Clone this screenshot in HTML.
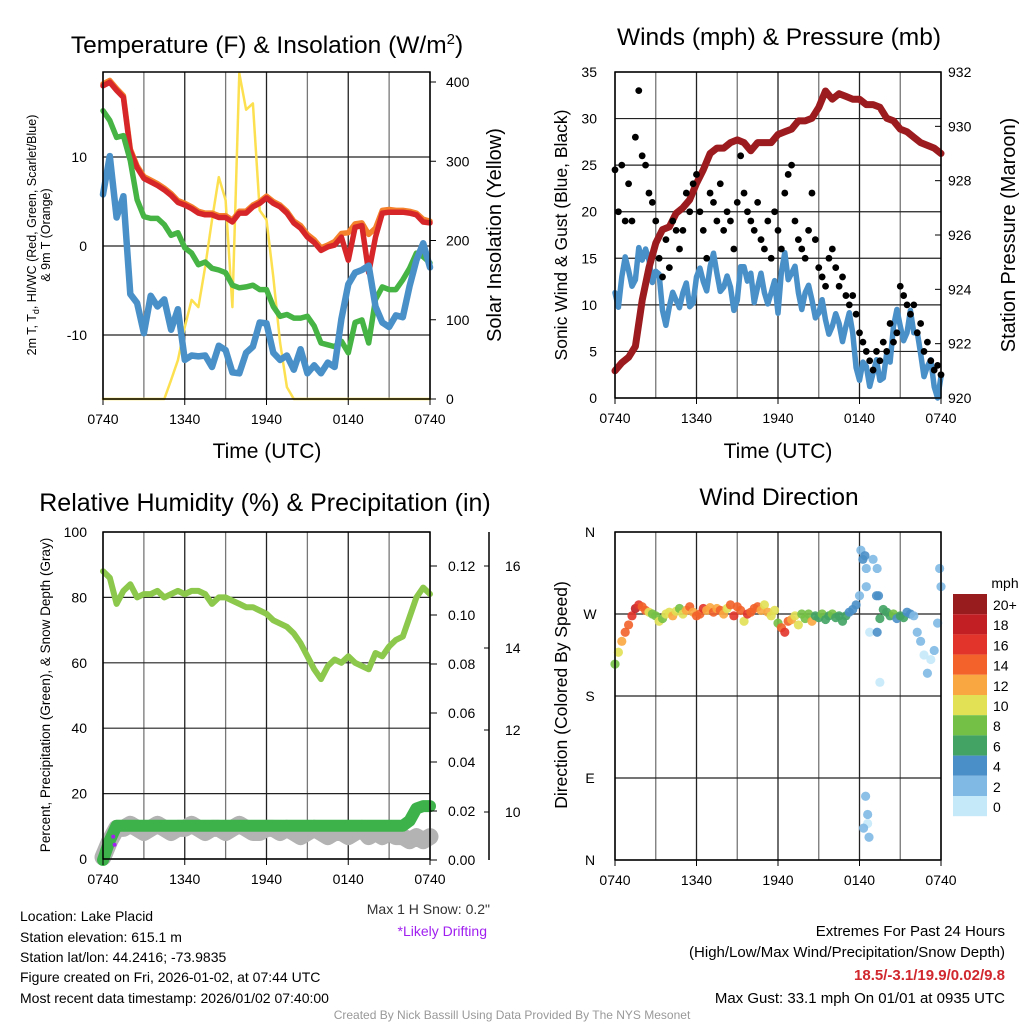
<!DOCTYPE html>
<html><head><meta charset="utf-8"><style>
body{margin:0;background:#fff}
svg{display:block;font-family:"Liberation Sans",sans-serif}
</style></head><body>
<svg id="c" width="1024" height="1024" viewBox="0 0 1024 1024" xmlns="http://www.w3.org/2000/svg">
<g id="txt">
<text x="267" y="53" font-size="24.5" text-anchor="middle">Temperature (F) &amp; Insolation (W/m<tspan dy="-9" font-size="15">2</tspan><tspan dy="9">)</tspan></text>
<text x="779" y="45" font-size="24.5" text-anchor="middle">Winds (mph) &amp; Pressure (mb)</text>
<text x="265" y="511" font-size="25" text-anchor="middle">Relative Humidity (%) &amp; Precipitation (in)</text>
<text x="779" y="505" font-size="24.5" text-anchor="middle">Wind Direction</text>
<text x="267" y="458" font-size="21" text-anchor="middle">Time (UTC)</text>
<text x="778" y="458" font-size="21" text-anchor="middle">Time (UTC)</text>
<text transform="translate(501,235) rotate(-90)" font-size="20" text-anchor="middle">Solar Insolation (Yellow)</text>
<text transform="translate(36,235) rotate(-90)" font-size="12.5" text-anchor="middle">2m T, T<tspan dy="3" font-size="9">d</tspan><tspan dy="-3">, HI/WC (Red, Green, Scarlet/Blue)</tspan></text>
<text transform="translate(50,235) rotate(-90)" font-size="12.5" text-anchor="middle">&amp; 9m T (Orange)</text>
<text transform="translate(567,235) rotate(-90)" font-size="17.5" text-anchor="middle">Sonic Wind &amp; Gust (Blue, Black)</text>
<text transform="translate(1015,235) rotate(-90)" font-size="20" text-anchor="middle">Station Pressure (Maroon)</text>
<text transform="translate(50,695) rotate(-90)" font-size="13.5" text-anchor="middle">Percent, Precipitation (Green), &amp; Snow Depth (Gray)</text>
<text transform="translate(567,695) rotate(-90)" font-size="17.5" text-anchor="middle">Direction (Colored By Speed)</text>
<text x="490" y="914" font-size="14" text-anchor="end" fill="#333">Max 1 H Snow: 0.2"</text>
<text x="487" y="936" font-size="14" text-anchor="end" fill="#a020f0">*Likely Drifting</text>
<g font-size="14">
<text x="20" y="921">Location: Lake Placid</text>
<text x="20" y="942">Station elevation: 615.1 m</text>
<text x="20" y="962">Station lat/lon: 44.2416; -73.9835</text>
<text x="20" y="982">Figure created on Fri, 2026-01-02, at 07:44 UTC</text>
<text x="20" y="1003">Most recent data timestamp: 2026/01/02 07:40:00</text>
</g>
<g font-size="15" text-anchor="end">
<text x="1005" y="936">Extremes For Past 24 Hours</text>
<text x="1005" y="957">(High/Low/Max Wind/Precipitation/Snow Depth)</text>
<text x="1005" y="980" fill="#d0282e" font-weight="bold">18.5/-3.1/19.9/0.02/9.8</text>
<text x="1005" y="1003">Max Gust: 33.1 mph On 01/01 at 0935 UTC</text>
</g>
<text x="512" y="1019" font-size="12" fill="#999" text-anchor="middle">Created By Nick Bassill Using Data Provided By The NYS Mesonet</text>
<text x="1005" y="588" font-size="14" text-anchor="middle">mph</text>
</g>
</svg>
<script>
// ---- data (half-hourly, 0..24 h from 0740 UTC) ----
const tempRed=[18,18.4,17.5,16.7,10.7,8.8,7.6,7.2,6.8,6.3,5.7,4.9,4.6,4.2,3.7,3.5,3.5,3.2,3.2,2.7,3.7,3.7,4.4,4.8,5.4,4.8,4.4,3.7,2.6,2.0,1.0,0.4,-0.5,-0.1,0.1,1.0,-1.6,2.1,2.3,-3.0,1.0,3.7,3.8,3.8,3.8,3.7,3.5,2.7,2.6];
const tempOrange=[18.2,18.6,17.7,16.9,10.9,9.0,7.8,7.4,7.0,6.5,5.9,5.1,4.8,4.4,3.9,3.7,3.7,3.4,3.4,2.9,3.9,3.9,4.6,5.0,5.6,5.0,4.6,3.9,2.8,2.3,1.3,0.7,-0.2,0.1,0.5,1.4,1.5,2.5,2.6,1.3,2.0,4.0,4.1,4.0,4.0,3.9,3.7,3.0,2.8];
const dewGreen=[15.2,14.1,12.2,12.4,9.6,5.2,3.3,3.1,3.1,2.4,1.2,1.5,-0.2,-0.8,-2.1,-1.8,-2.5,-2.7,-3.0,-4.4,-4.7,-4.6,-4.4,-4.9,-4.9,-6.8,-7.9,-7.7,-8.1,-8.1,-7.9,-9.0,-10.9,-11.1,-11.3,-10.7,-12.0,-8.6,-8.3,-10.9,-6.0,-4.6,-4.9,-4.9,-3.8,-2.5,-0.8,-1.2,-1.9];
const windChill=[6.6,9.3,4.0,4.8,-4.6,-7.2,-9.0,-6.4,-6.0,-6.8,-8.6,-7.9,-12.0,-13.1,-11.6,-13.1,-12.8,-12.0,-10.9,-15.0,-13.5,-12.8,-10.5,-9.4,-7.9,-12.8,-12.0,-13.1,-13.1,-12.4,-13.5,-14.2,-13.5,-13.9,-12.8,-9.0,-3.5,-3.8,-1.9,-3.0,-6.0,-9.4,-8.3,-8.6,-7.2,-5.3,-0.8,-0.5,-1.6];
const solar=[0,0,0,0,0,0,0,0,0,0,24,49,91,125,116,167,226,280,251,116,411,365,373,238,226,154,71,15,0,0,0,0,0,0,0,0,0,0,0,0,0,0,0,0,0,0,0,0,0];
const pressure=[921.0,921.3,921.5,921.9,923.6,924.8,925.7,926.2,926.3,926.8,927.0,927.3,927.9,928.4,929.0,929.2,929.2,929.4,929.5,929.4,929.1,929.4,929.4,929.4,929.7,929.8,929.9,930.2,930.2,930.3,930.7,931.3,931.0,931.2,931.1,931.0,931.0,930.8,930.8,930.7,930.3,930.2,929.9,929.8,929.6,929.4,929.3,929.2,929.0];
const windSpeed=[11.3,13.0,13.7,12.7,14.8,14.8,13.6,9.4,9.8,10.5,11.3,9.8,13.0,12.5,14.1,13.4,11.9,11.9,10.5,14.1,13.4,11.9,11.3,11.3,9.1,15.6,13.4,11.3,11.3,10.5,9.1,8.4,7.7,8.0,7.7,7.0,1.9,3.4,2.7,1.9,4.8,7.7,7.7,7.0,7.0,4.8,3.4,1.2,2.3];
const windNoise=[-4,3,-2,4,2,-3,3,-3,2,-2,3,-2,2,-3,3,-2,2,-3,3,-2];
// quarter-hourly gusts
const gusts=[24.5,20,25,19,23,19,28,33,26,25,22,21,19,15,13,17,14,19,18,16,18,22,20,23,24,20,18,15,22,21,19,23,18,20,19,16,21,26,22,20,19,18,21,17,16,19,15,20,18,16,22,24,25,19,17,16,15,18,22,17,14,13,12,15,16,14,12,13,11,10,11,9,7,6,5,4,3,5,4,6,5,8,6,7,12,11,10,9,10,7,8,5,6,4,3,3.5,2.5];
const rh=[88,86,78,82,84,80,81,81,82,80,81,82,81,82,82,81,78,80,80,79,78,77,77,76,75,73,72,71,69,66,62,58,55,59,61,60,62,60,59,58,63,62,65,67,68,74,80,83,81];
const precip=[0,0.008,0.014,0.014,0.014,0.014,0.014,0.014,0.014,0.014,0.014,0.014,0.014,0.014,0.014,0.014,0.014,0.014,0.014,0.014,0.014,0.014,0.014,0.014,0.014,0.014,0.014,0.014,0.014,0.014,0.014,0.014,0.014,0.014,0.014,0.014,0.014,0.014,0.014,0.014,0.014,0.014,0.014,0.014,0.014,0.016,0.021,0.022,0.022];
const snowDepth=[8.9,9.3,9.6,9.6,9.7,9.6,9.5,9.6,9.7,9.6,9.5,9.6,9.6,9.7,9.6,9.5,9.6,9.6,9.5,9.6,9.7,9.6,9.5,9.5,9.6,9.6,9.5,9.6,9.5,9.4,9.5,9.6,9.5,9.4,9.5,9.5,9.4,9.5,9.6,9.4,9.5,9.4,9.5,9.4,9.4,9.3,9.4,9.3,9.4];
const driftTimes=[0.75,0.85];
const driftSnow=[9.4,9.2];
const dirs=[215,228,240,250,258,268,276,280,278,274,272,270,268,262,265,270,272,268,273,276,270,274,278,272,268,270,276,274,277,272,276,274,270,276,280,268,278,274,262,270,272,276,278,274,280,272,268,274,260,255,250,262,264,268,258,270,265,270,262,268,266,270,264,268,270,266,268,262,268,272,275,280,290,330,300,250,330,290,265,275,272,268,270,265,268,266,272,270,268,250,240,225,205,220,230,260,300];
const dirSpeed=[9,11,13,15,15,17,19,16,15,14,10,9,8,10,9,10,11,12,10,9,10,13,14,12,14,15,16,13,12,14,13,15,12,11,14,16,15,14,11,16,14,15,14,12,10,13,11,10,8,15,16,14,13,11,10,9,8,9,12,7,7,8,6,7,8,7,6,7,6,5,4,4,3,4,2,1,3,4,6,7,7,6,8,5,7,6,4,5,3,2,2,1,2,1,2,3,3];
const extraTimes=[18.1,18.4,18.5,18.6,18.3,18.45,18.6,18.7,19.3,19.4,19.5,19.3,23.9];
const extraDirs=[340,334,320,40,35,70,50,25,320,290,195,250,320];
const extraSpeed=[3,4,3,1,2,3,2,2,2,4,1,4,3];
const xTickLabels=["0740","1340","1940","0140","0740"];
const tempTicks=[-10,0,10];
const solarTicks=[0,100,200,300,400];
const windTicks=[0,5,10,15,20,25,30,35];
const presTicks=[920,922,924,926,928,930,932];
const rhTicks=[0,20,40,60,80,100];
const precipTicks=[0,0.02,0.04,0.06,0.08,0.10,0.12];
const snowTicks=[10,12,14,16];
const dirTicks=[[0,"N"],[90,"E"],[180,"S"],[270,"W"],[360,"N"]];
const cbLabels=["20+","18","16","14","12","10","8","6","4","2","0"];
const cbColors=["#981b1e","#c11f24","#e2342a","#f2622a","#f9a740","#e2e054","#74c046","#43a364","#4a8fc8","#7fb9e4","#c6e9fa"];

const NS="http://www.w3.org/2000/svg";
const svg=document.getElementById('c');
function el(tag,attrs,parent){const e=document.createElementNS(NS,tag);for(const k in attrs)e.setAttribute(k,attrs[k]);(parent||svg).appendChild(e);return e;}
function txt(x,y,s,anchor,size,parent){const t=el('text',{x:x,y:y,'font-size':size||14,'text-anchor':anchor||'middle'},parent);t.textContent=s;return t;}
function lin(d0,d1,r0,r1){return v=>r0+(v-d0)/(d1-d0)*(r1-r0);}
function panel(x0,x1,y0,y1,name){
  const g=el('g',{});
  
  
  const grid=el('g',{},g);
  const marks=el('g',{},g);
  return {g:g,grid:grid,marks:marks,x0:x0,x1:x1,y0:y0,y1:y1,X:lin(0,24,x0,x1)};
}
function frame(p,hTicksY){
  for(let h=0;h<=24;h+=3){const x=p.X(h);el('line',{x1:x,x2:x,y1:p.y0,y2:p.y1,stroke:(h%6==0)?'#222':'#777','stroke-width':1.3},p.grid);}
  hTicksY.forEach(y=>el('line',{x1:p.x0,x2:p.x1,y1:y,y2:y,stroke:'#222','stroke-width':1.2},p.grid));
  el('rect',{x:p.x0,y:p.y0,width:p.x1-p.x0,height:p.y1-p.y0,fill:'none',stroke:'#000','stroke-width':1.5},p.g);
  xTickLabels.forEach((s,i)=>{const x=p.X(i*6);el('line',{x1:x,x2:x,y1:p.y1,y2:p.y1+6,stroke:'#000'},p.g);const t=txt(x,p.y1+25,s,'middle',14,p.g);
    
    });
}
function path(p,arr,Y,step,color,w,name){
  const d=arr.map((v,i)=>(i?'L':'M')+p.X(i*step).toFixed(1)+','+Y(v).toFixed(1)).join('');
  const e=el('path',{d:d,fill:'none',stroke:color,'stroke-width':w,'stroke-linejoin':'round','stroke-linecap':'round'},p.marks);
  
  
}

// ---- Temperature panel ----
{
const p=panel(103,430,72,399,'temperature-panel');
const Y=lin(0,10,246,157), YS=lin(0,400,399,82);
frame(p,tempTicks.map(Y));
tempTicks.forEach(v=>{const t=txt(87,Y(v)+5,String(v),'end',14,p.g);});
solarTicks.forEach(v=>{el('line',{x1:430,x2:436,y1:YS(v),y2:YS(v),stroke:'#000'},p.g);const t=txt(446,YS(v)+5,String(v),'start',14,p.g);});
const clipY=v=>Math.max(72,YS(v));
path(p,solar,clipY,0.5,'#fde050',2.5,'solar-line');
path(p,tempOrange,Y,0.5,'#f4812c',5.5,'temp-9m-line');
path(p,tempRed,Y,0.5,'#d7262a',5.5,'temp-2m-line');
path(p,dewGreen,Y,0.5,'#46b345',5.5,'dewpoint-line');
const wc=windChill.map((v,i)=>v+(i%2?0.8:-0.8));
path(p,wc,Y,0.5,'#4a90c8',6.5,'windchill-line');
}
// ---- Wind panel ----
{
const p=panel(615,941,72,398,'wind-panel');
const Y=lin(0,35,398,72), YP=lin(920,932,398,72);
frame(p,windTicks.map(Y));
windTicks.forEach(v=>{const t=txt(597,Y(v)+5,String(v),'end',14,p.g);});
presTicks.forEach(v=>{el('line',{x1:941,x2:935,y1:YP(v),y2:YP(v),stroke:'#000'},p.g);const t=txt(948,YP(v)+5,String(v),'start',14,p.g);});
const ws=[];windSpeed.forEach((v,i)=>{ws.push(v);if(i<windSpeed.length-1){ws.push((v+windSpeed[i+1])/2+windNoise[i%windNoise.length]*0.6);}});
path(p,ws.map(v=>Math.max(0,v)),Y,0.25,'#4a90c8',5.5,'wind-speed-line');
path(p,pressure,YP,0.5,'#9b1b1e',7,'pressure-line');
gusts.forEach((v,i)=>{const c=el('circle',{cx:p.X(i*0.25),cy:Y(v),r:3.4,fill:'#000'},p.marks);
  
  });
}
// ---- RH panel ----
{
const p=panel(103,430,532,859,'humidity-panel');
const Y=lin(0,100,859,532), YPr=lin(0,0.12,860,566), YSn=lin(10,16,812,566);
frame(p,rhTicks.map(Y));
rhTicks.forEach(v=>{const t=txt(87,Y(v)+5,String(v),'end',14,p.g);});
precipTicks.forEach(v=>{el('line',{x1:430,x2:437,y1:YPr(v),y2:YPr(v),stroke:'#000'},p.g);const t=txt(448,YPr(v)+5,v.toFixed(2),'start',14,p.g);});
el('line',{x1:489,x2:489,y1:532,y2:860,stroke:'#000','stroke-width':1.5},p.g);
snowTicks.forEach(v=>{el('line',{x1:489,x2:484,y1:YSn(v),y2:YSn(v),stroke:'#000'},p.g);const t=txt(505,YSn(v)+5,String(v),'start',14,p.g);});
path(p,snowDepth,YSn,0.5,'#b3b3b3',17,'snow-depth-line');
path(p,precip,YPr,0.5,'#3db24a',12,'precip-line');
path(p,rh,Y,0.5,'#8cc84b',6,'rh-line');
driftTimes.forEach((t,i)=>{const c=el('circle',{cx:p.X(t),cy:YSn(driftSnow[i]),r:2,fill:'#a020f0'},p.marks);
  
  });
}
// ---- Wind direction panel ----
{
const p=panel(615,941,532,860,'wind-direction-panel');
const Y=lin(0,360,860,532);
frame(p,dirTicks.map(d=>Y(d[0])));
dirTicks.forEach(d=>{const t=txt(590,Y(d[0])+5,d[1],'middle',14,p.g);});
const col=s=>cbColors[10-Math.min(10,Math.floor(s/2))];
dirs.forEach((d,i)=>{const c=el('circle',{cx:p.X(i*0.25),cy:Y(d),r:4.6,fill:col(dirSpeed[i]),'fill-opacity':0.9},p.marks);
  
  });
extraTimes.forEach((t,i)=>{const c=el('circle',{cx:p.X(t),cy:Y(extraDirs[i]),r:4.6,fill:col(extraSpeed[i]),'fill-opacity':0.9},p.marks);
  
  });
// colorbar
const cb=el('g',{});


cbColors.forEach((c,i)=>{el('rect',{x:953,y:594+i*20.2,width:34,height:20.2,fill:c},cb);
  const t=txt(993,610+i*20.2,cbLabels[i],'start',14,cb);});
}
</script>
</body></html>
